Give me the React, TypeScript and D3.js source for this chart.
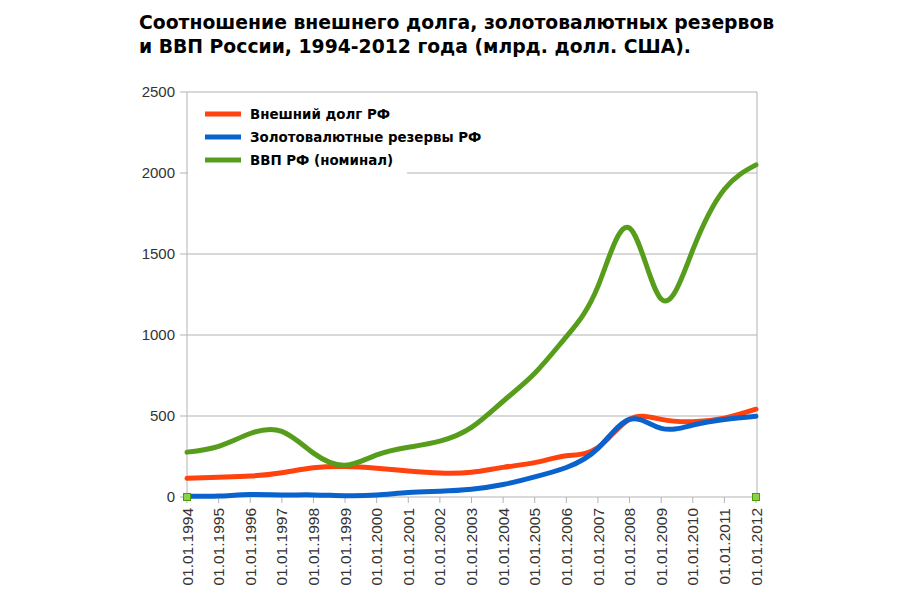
import React from "react";
import * as d3 from "d3";

const years = ["1994","1995","1996","1997","1998","1999","2000","2001","2002","2003","2004","2005","2006","2007","2008","2009","2010","2011","2012"];
const categories = years.map((y) => `01.01.${y}`);
const debt = [115, 122, 129, 150, 180, 188, 178, 161, 148, 153, 183, 212, 254, 305, 480, 479, 465, 487, 542];
const reserves = [4, 6, 15, 13, 13, 8, 12, 28, 36, 48, 77, 124, 182, 300, 479, 424, 444, 479, 499];
const gdp = [277, 313, 392, 405, 271, 196, 260, 307, 345, 430, 591, 764, 990, 1300, 1660, 1222, 1525, 1900, 2050];
const yTicks = [0, 500, 1000, 1500, 2000, 2500];
const titleLines = [
  "Соотношение внешнего долга, золотовалютных резервов",
  "и ВВП России, 1994-2012 года (млрд. долл. США).",
];
const seriesNames = ["Внешний долг РФ", "Золотовалютные резервы РФ", "ВВП РФ (номинал)"];
const seriesColors = ["#ff420e", "#0a62cc", "#579d1c"];

export default function App() {
  const left = 187, right = 756, top = 92, bottom = 497;
  const x = d3.scalePoint<string>().domain(categories).range([left, right]);
  const y = d3.scaleLinear().domain([0, 2500]).range([bottom, top]);
  const series = [debt, reserves, gdp];
  const line = d3
    .line<number>()
    .x((_, i) => x(categories[i]) as number)
    .y((d) => y(d))
    .curve(d3.curveNatural);
  const grid = "#b3b3b3";
  return (
    <svg width={900} height={600} style={{ position: "absolute", left: 0, top: 0, background: "#fff" }}>
      <g fontFamily="'DejaVu Sans', Verdana, sans-serif" fontWeight="bold" fontSize={18.8} fill="#000">
        {titleLines.map((t, i) => (
          <text key={i} x={139} y={29 + i * 24}>{t}</text>
        ))}
      </g>
      {yTicks.map((t) => (
        <g key={t}>
          <line x1={left - 7} x2={right + 1} y1={y(t)} y2={y(t)} stroke={grid} strokeWidth={1} />
          <text x={175} y={y(t)} dy="0.35em" textAnchor="end" fontFamily="'Liberation Sans', Arial, sans-serif" fontSize={15} fill="#333">{t}</text>
        </g>
      ))}
      <line x1={left} x2={left} y1={top} y2={bottom} stroke={grid} />
      <line x1={right + 1} x2={right + 1} y1={top} y2={bottom} stroke={grid} />
      {categories.map((c) => (
        <g key={c}>
          <line x1={x(c)} x2={x(c)} y1={bottom} y2={bottom + 6} stroke={grid} />
          <text
            transform={`translate(${x(c)},${bottom + 11}) rotate(-90)`}
            dy="0.36em"
            textAnchor="end"
            fontFamily="'Liberation Sans', Arial, sans-serif"
            fontSize={15.5}
            fill="#333"
          >{c}</text>
        </g>
      ))}
      <rect x={left + 1} y={top + 1} width={219} height={81} fill="#fff" />
      {series.map((s, i) => (
        <path key={i} d={line(s) as string} fill="none" stroke={seriesColors[i]} strokeWidth={5} strokeLinejoin="round" strokeLinecap="round" />
      ))}
      <g fontFamily="'DejaVu Sans', Verdana, sans-serif" fontWeight="bold" fontSize={13.4} fill="#000">
        {seriesNames.map((n, i) => (
          <g key={n}>
            <line x1={205} x2={241} y1={114 + i * 23} y2={114 + i * 23} stroke={seriesColors[i]} strokeWidth={5} />
            <text x={250} y={114 + i * 23} dy="0.35em">{n}</text>
          </g>
        ))}
      </g>
      {[categories[0], categories[categories.length - 1]].map((c) => (
        <rect key={c} x={(x(c) as number) - 3.5} y={bottom - 3.5} width={7} height={7} fill="#8cd14a" stroke="#4e9a06" strokeWidth={1} />
      ))}
    </svg>
  );
}
